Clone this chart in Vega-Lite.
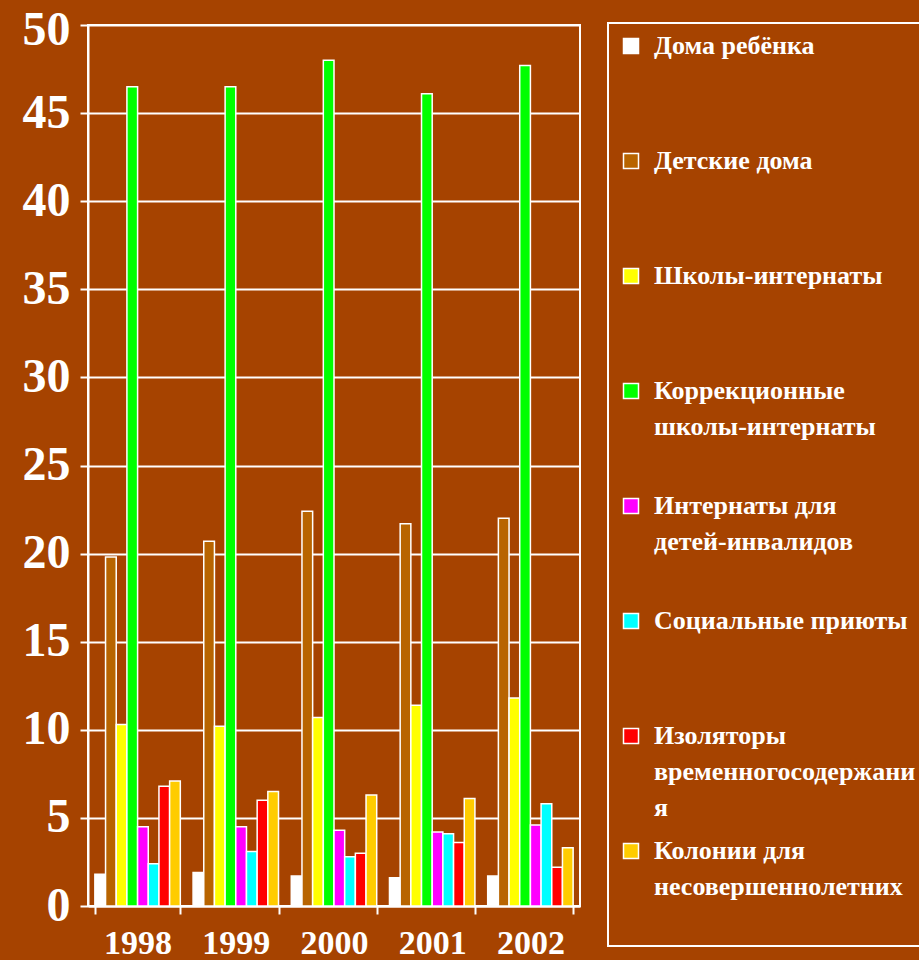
{
  "$schema": "https://vega.github.io/schema/vega-lite/v6.json",
  "autosize": {"type": "none"},
  "padding": {"left": 88, "top": 25, "right": 339, "bottom": 54},
  "width": 492,
  "height": 881,
  "background": "#A64300",
  "config": {
    "view": {"stroke": "white", "strokeWidth": 2},
    "style": {"guide-label": {"lineHeight": 36}}
  },
  "data": {
    "values": [
      {"year": "1998", "type": "Дома ребёнка", "value": 1.8},
      {"year": "1998", "type": "Детские дома", "value": 19.8},
      {"year": "1998", "type": "Школы-интернаты", "value": 10.3},
      {"year": "1998", "type": "Коррекционные школы-интернаты", "value": 46.5},
      {"year": "1998", "type": "Интернаты для детей-инвалидов", "value": 4.5},
      {"year": "1998", "type": "Социальные приюты", "value": 2.4},
      {"year": "1998", "type": "Изоляторы временного содержания", "value": 6.8},
      {"year": "1998", "type": "Колонии для несовершеннолетних", "value": 7.1},
      {"year": "1999", "type": "Дома ребёнка", "value": 1.9},
      {"year": "1999", "type": "Детские дома", "value": 20.7},
      {"year": "1999", "type": "Школы-интернаты", "value": 10.2},
      {"year": "1999", "type": "Коррекционные школы-интернаты", "value": 46.5},
      {"year": "1999", "type": "Интернаты для детей-инвалидов", "value": 4.5},
      {"year": "1999", "type": "Социальные приюты", "value": 3.1},
      {"year": "1999", "type": "Изоляторы временного содержания", "value": 6.0},
      {"year": "1999", "type": "Колонии для несовершеннолетних", "value": 6.5},
      {"year": "2000", "type": "Дома ребёнка", "value": 1.7},
      {"year": "2000", "type": "Детские дома", "value": 22.4},
      {"year": "2000", "type": "Школы-интернаты", "value": 10.7},
      {"year": "2000", "type": "Коррекционные школы-интернаты", "value": 48.0},
      {"year": "2000", "type": "Интернаты для детей-инвалидов", "value": 4.3},
      {"year": "2000", "type": "Социальные приюты", "value": 2.8},
      {"year": "2000", "type": "Изоляторы временного содержания", "value": 3.0},
      {"year": "2000", "type": "Колонии для несовершеннолетних", "value": 6.3},
      {"year": "2001", "type": "Дома ребёнка", "value": 1.6},
      {"year": "2001", "type": "Детские дома", "value": 21.7},
      {"year": "2001", "type": "Школы-интернаты", "value": 11.4},
      {"year": "2001", "type": "Коррекционные школы-интернаты", "value": 46.1},
      {"year": "2001", "type": "Интернаты для детей-инвалидов", "value": 4.2},
      {"year": "2001", "type": "Социальные приюты", "value": 4.1},
      {"year": "2001", "type": "Изоляторы временного содержания", "value": 3.6},
      {"year": "2001", "type": "Колонии для несовершеннолетних", "value": 6.1},
      {"year": "2002", "type": "Дома ребёнка", "value": 1.7},
      {"year": "2002", "type": "Детские дома", "value": 22.0},
      {"year": "2002", "type": "Школы-интернаты", "value": 11.8},
      {"year": "2002", "type": "Коррекционные школы-интернаты", "value": 47.7},
      {"year": "2002", "type": "Интернаты для детей-инвалидов", "value": 4.6},
      {"year": "2002", "type": "Социальные приюты", "value": 5.8},
      {"year": "2002", "type": "Изоляторы временного содержания", "value": 2.2},
      {"year": "2002", "type": "Колонии для несовершеннолетних", "value": 3.3}
    ]
  },
  "mark": {"type": "bar", "stroke": "white", "strokeWidth": 1.5, "opacity": 1},
  "encoding": {
    "x": {
      "field": "year",
      "type": "nominal",
      "scale": {"paddingInner": 0.13, "paddingOuter": 0.07},
      "axis": {
        "title": null,
        "labelAngle": 0,
        "labelFont": "Liberation Serif",
        "labelFontSize": 34,
        "labelFontWeight": "bold",
        "labelColor": "white",
        "labelPadding": 12,
        "domainColor": "white",
        "domainWidth": 2,
        "tickColor": "white",
        "tickWidth": 2,
        "tickSize": 8,
        "tickBand": "extent"
      }
    },
    "xOffset": {
      "field": "type",
      "type": "nominal",
      "sort": null,
      "scale": {"paddingInner": 0, "paddingOuter": 0}
    },
    "y": {
      "field": "value",
      "type": "quantitative",
      "scale": {"domain": [0, 50], "nice": false},
      "axis": {
        "title": null,
        "values": [0, 5, 10, 15, 20, 25, 30, 35, 40, 45, 50],
        "labelFont": "Liberation Serif",
        "labelFontSize": 48,
        "labelFontWeight": "bold",
        "labelColor": "white",
        "labelPadding": 10,
        "labelOffset": {"condition": {"test": "datum.value == 50", "value": 5}, "value": 0},
        "domainColor": "white",
        "domainWidth": 2,
        "tickColor": "white",
        "tickWidth": 2,
        "tickSize": 8,
        "gridColor": "white",
        "gridWidth": 2,
        "gridOpacity": 1
      }
    },
    "color": {
      "field": "type",
      "type": "nominal",
      "sort": null,
      "scale": {
        "domain": ["Дома ребёнка", "Детские дома", "Школы-интернаты", "Коррекционные школы-интернаты", "Интернаты для детей-инвалидов", "Социальные приюты", "Изоляторы временного содержания", "Колонии для несовершеннолетних"],
        "range": ["#FFFFFF", "#B86400", "#FFFF00", "#00FF00", "#FF00FF", "#00FFFF", "#FF0000", "#FFCC00"]
      },
      "legend": {
        "title": null,
        "orient": "none",
        "legendX": 520,
        "legendY": -2,
        "padding": 10,
        "strokeColor": "white",
        "gridAlign": "all",
        "rowPadding": 17,
        "symbolType": "square",
        "symbolSize": 225,
        "symbolStrokeColor": "white",
        "symbolStrokeWidth": 1.5,
        "symbolOpacity": 1,
        "labelFont": "Liberation Serif",
        "labelFontSize": 26,
        "labelFontWeight": "bold",
        "labelColor": "white",
        "labelOffset": 10,
        "labelLimit": 400,
        "labelExpr": "datum.label == 'Коррекционные школы-интернаты' ? ['Коррекционные', 'школы-интернаты', ''] : datum.label == 'Интернаты для детей-инвалидов' ? ['Интернаты для', 'детей-инвалидов', ''] : datum.label == 'Изоляторы временного содержания' ? ['Изоляторы', 'временногосодержани', 'я'] : datum.label == 'Колонии для несовершеннолетних' ? ['Колонии для', 'несовершеннолетних', ''] : [datum.label, '', '']",
        "encode": {"legend": {"update": {"strokeWidth": {"value": 2}}}}
      }
    }
  }
}
